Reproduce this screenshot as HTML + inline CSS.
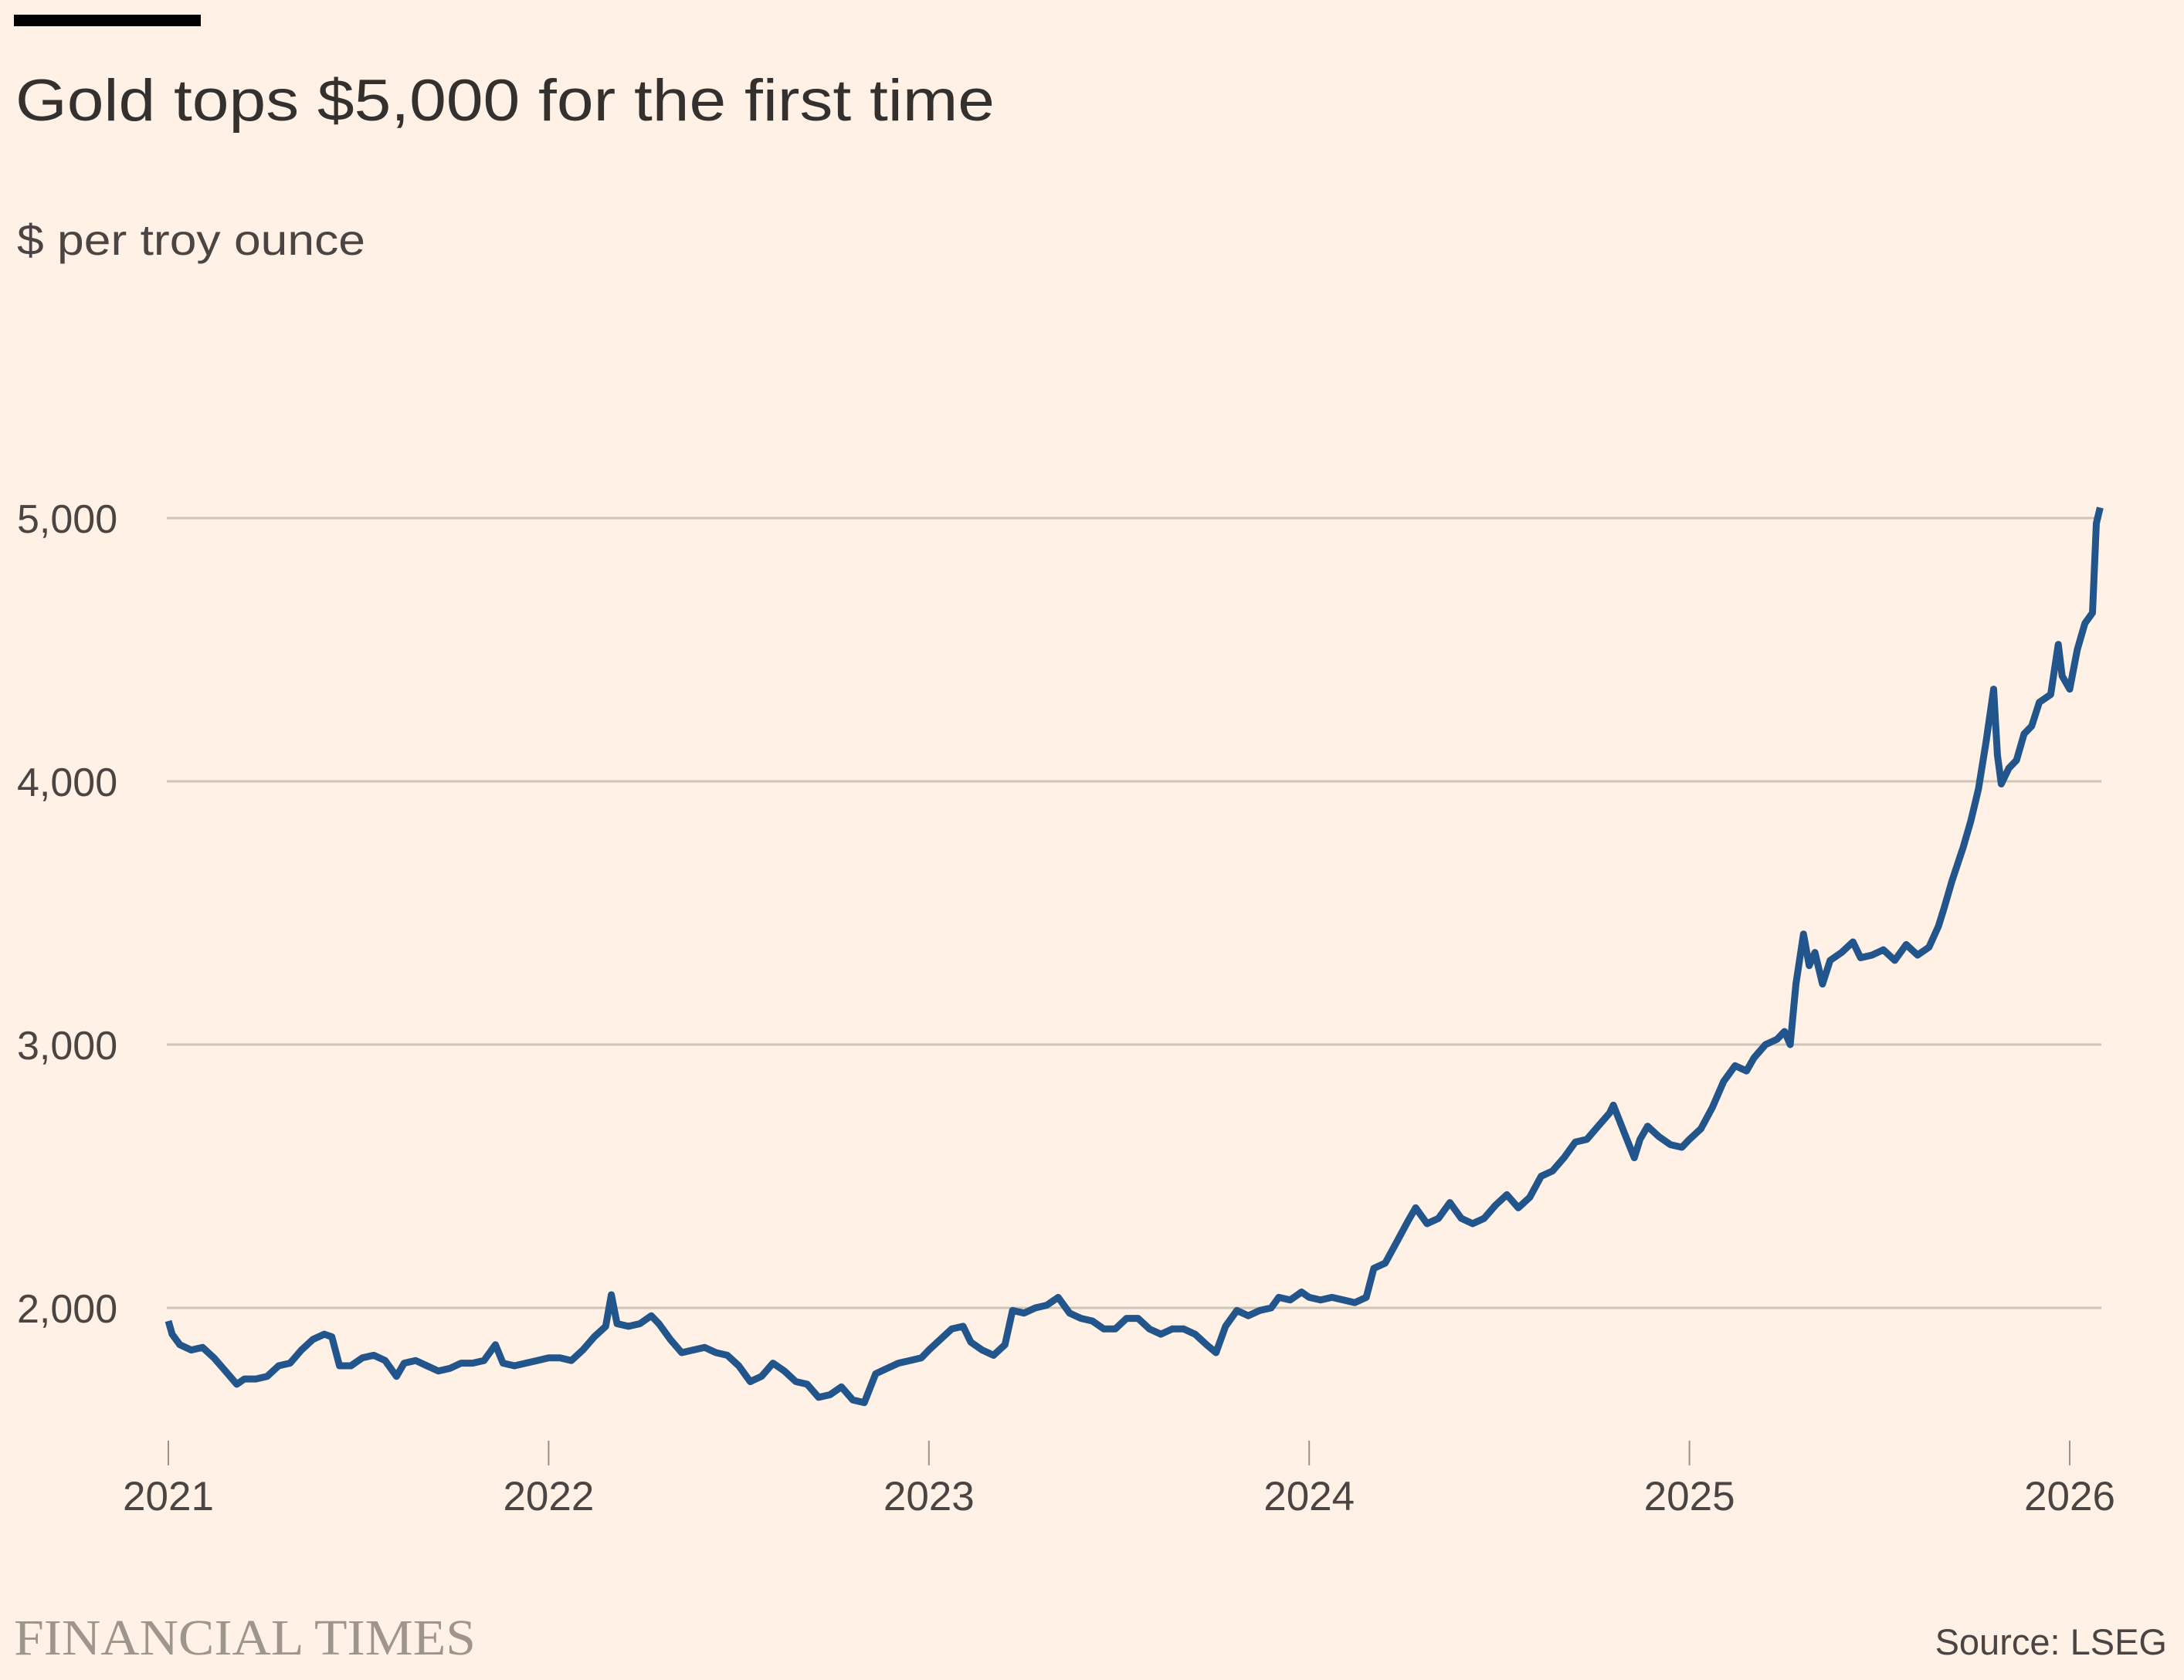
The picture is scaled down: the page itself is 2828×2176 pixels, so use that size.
<!DOCTYPE html>
<html><head><meta charset="utf-8"><style>
html,body{margin:0;padding:0;background:#fff1e5;}
svg{display:block;font-family:"Liberation Sans",sans-serif;}
</style></head><body>
<svg id="chart" width="2828" height="2176" viewBox="0 0 2828 2176" xmlns="http://www.w3.org/2000/svg">
<rect x="0" y="0" width="2828" height="2176" fill="#fff1e5"/>
<rect x="18" y="19" width="242" height="15" fill="#000"/>
<text x="20" y="156" font-size="76" fill="#33302e" textLength="1268" lengthAdjust="spacingAndGlyphs">Gold tops $5,000 for the first time</text>
<text x="22" y="330" font-size="56" fill="#4a4542" textLength="451" lengthAdjust="spacingAndGlyphs">$ per troy ounce</text>
<g id="grid"></g>
<g id="yticks"></g>
<g id="xticks"></g>
<path id="line" fill="none" stroke="#21558b" stroke-width="9" stroke-linejoin="round" stroke-linecap="butt"/>
<text x="18" y="2143" font-family="Liberation Serif, serif" font-size="66" fill="#9e958d" textLength="598" lengthAdjust="spacingAndGlyphs">FINANCIAL TIMES</text>
<text x="2806" y="2143" text-anchor="end" font-size="47" fill="#4a4542">Source: LSEG</text>
</svg>
<script>
const yTicks=[2000,3000,4000,5000];
const yTickLabels=["2,000","3,000","4,000","5,000"];
const xTicks=[2021,2022,2023,2024,2025,2026];
const xTickLabels=["2021","2022","2023","2024","2025","2026"];
const dates=[2021.00,2021.01,2021.03,2021.06,2021.09,2021.12,2021.15,2021.18,2021.20,2021.23,2021.26,2021.29,2021.32,2021.35,2021.38,2021.41,2021.43,2021.45,2021.48,2021.51,2021.54,2021.57,2021.60,2021.62,2021.65,2021.68,2021.71,2021.74,2021.77,2021.80,2021.83,2021.86,2021.88,2021.91,2021.94,2021.97,
2022.00,2022.03,2022.06,2022.09,2022.12,2022.15,2022.165,2022.18,2022.21,2022.24,2022.27,2022.29,2022.32,2022.35,2022.38,2022.41,2022.44,2022.47,2022.50,2022.53,2022.56,2022.59,2022.62,2022.65,2022.68,2022.71,2022.74,2022.77,2022.80,2022.83,2022.86,2022.89,2022.92,2022.95,2022.98,
2023.00,2023.03,2023.06,2023.09,2023.11,2023.14,2023.17,2023.20,2023.22,2023.25,2023.28,2023.31,2023.34,2023.37,2023.40,2023.43,2023.46,2023.49,2023.52,2023.55,2023.58,2023.61,2023.64,2023.67,2023.70,2023.73,2023.755,2023.78,2023.81,2023.84,2023.87,2023.90,2023.92,2023.95,2023.98,
2024.00,2024.03,2024.06,2024.09,2024.12,2024.15,2024.17,2024.20,2024.23,2024.26,2024.28,2024.31,2024.34,2024.37,2024.40,2024.43,2024.46,2024.49,2024.52,2024.55,2024.58,2024.61,2024.64,2024.67,2024.70,2024.73,2024.76,2024.79,2024.80,2024.83,2024.855,2024.87,2024.89,2024.92,2024.95,2024.98,
2025.00,2025.03,2025.06,2025.09,2025.12,2025.15,2025.17,2025.20,2025.23,2025.25,2025.265,2025.28,2025.30,2025.315,2025.33,2025.35,2025.37,2025.40,2025.43,2025.45,2025.48,2025.51,2025.54,2025.57,2025.60,2025.63,2025.655,2025.67,2025.69,2025.72,2025.74,2025.76,2025.78,2025.80,2025.81,2025.82,2025.84,2025.86,2025.88,2025.90,2025.92,2025.95,2025.97,2025.98,
2026.00,2026.02,2026.04,2026.06,2026.07,2026.08];
const prices=[1950,1900,1860,1840,1850,1810,1760,1710,1730,1730,1740,1780,1790,1840,1880,1900,1890,1780,1780,1810,1820,1800,1740,1790,1800,1780,1760,1770,1790,1790,1800,1860,1790,1780,1790,1800,
1810,1810,1800,1840,1890,1930,2050,1940,1930,1940,1970,1940,1880,1830,1840,1850,1830,1820,1780,1720,1740,1790,1760,1720,1710,1660,1670,1700,1650,1640,1750,1770,1790,1800,1810,
1840,1880,1920,1930,1870,1840,1820,1860,1990,1980,2000,2010,2040,1980,1960,1950,1920,1920,1960,1960,1920,1900,1920,1920,1900,1860,1830,1930,1990,1970,1990,2000,2040,2030,2060,
2040,2030,2040,2030,2020,2040,2150,2170,2250,2330,2380,2320,2340,2400,2340,2320,2340,2390,2430,2380,2420,2500,2520,2570,2630,2640,2690,2740,2770,2660,2570,2640,2690,2650,2620,2610,
2640,2680,2760,2860,2920,2900,2950,3000,3020,3050,3000,3230,3420,3300,3350,3230,3320,3350,3390,3330,3340,3360,3320,3380,3340,3370,3450,3520,3620,3750,3850,3970,4150,4350,4100,3990,4050,4080,4180,4210,4300,4330,4520,4400,
4350,4500,4600,4640,4980,5040];
const X0=218,X1=2680,Y2000=1694,Y5000=671;
function xScale(d){return X0+(d-2021)*(X1-X0)/5;}
function yScale(v){return Y2000+(v-2000)*(Y5000-Y2000)/3000;}
const NS="http://www.w3.org/2000/svg";
const grid=document.getElementById('grid'),yt=document.getElementById('yticks'),xt=document.getElementById('xticks');
yTicks.forEach((v,i)=>{
  const l=document.createElementNS(NS,'line');
  
  
  l.setAttribute('x1',216);l.setAttribute('x2',2721);
  l.setAttribute('y1',yScale(v));l.setAttribute('y2',yScale(v));
  l.setAttribute('stroke','#cfc3b6');l.setAttribute('stroke-width','3');
  grid.appendChild(l);
  const t=document.createElementNS(NS,'text');
  
  
  t.setAttribute('x',22);t.setAttribute('y',yScale(v)+19);
  t.setAttribute('font-size','52');t.setAttribute('fill','#4a4542');
  t.textContent=yTickLabels[i];
  yt.appendChild(t);
});
xTicks.forEach((d,i)=>{
  const l=document.createElementNS(NS,'line');
  
  
  l.setAttribute('x1',xScale(d));l.setAttribute('x2',xScale(d));
  l.setAttribute('y1',1866);l.setAttribute('y2',1898);
  l.setAttribute('stroke','#9a928c');l.setAttribute('stroke-width','2');
  xt.appendChild(l);
  const t=document.createElementNS(NS,'text');
  
  
  t.setAttribute('x',xScale(d));t.setAttribute('y',1956);
  t.setAttribute('text-anchor','middle');
  t.setAttribute('font-size','53');t.setAttribute('fill','#4a4542');
  t.textContent=xTickLabels[i];
  xt.appendChild(t);
});
let p='';
dates.forEach((d,i)=>{p+=(i?'L':'M')+xScale(d).toFixed(1)+' '+yScale(prices[i]).toFixed(1);});
document.getElementById('line').setAttribute('d',p);
</script>
</body></html>
